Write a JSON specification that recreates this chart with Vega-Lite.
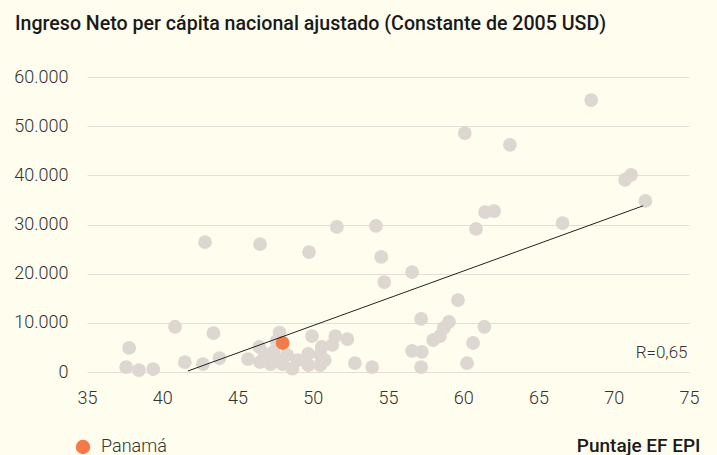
{
  "$schema": "https://vega.github.io/schema/vega-lite/v6.json",
  "width": 602,
  "height": 295,
  "autosize": "none",
  "padding": {"left": 87, "top": 77, "right": 28, "bottom": 83},
  "background": "#fffdee",
  "title": {
    "text": "Ingreso Neto per cápita nacional ajustado (Constante de 2005 USD)",
    "anchor": "start",
    "frame": "group",
    "dx": -72,
    "offset": 33,
    "fontSize": 19.6,
    "fontWeight": 500,
    "font": "Roboto",
    "color": "#1a1a1a"
  },
  "config": {
    "view": {"stroke": null},
    "locale": {"number": {"decimal": ",", "thousands": ".", "grouping": [3], "currency": ["", ""]}},
    "font": "Roboto"
  },
  "datasets": {
    "paises": [
      {"epi": 37.6, "ingreso": 1000, "grupo": "Otros"},
      {"epi": 37.8, "ingreso": 4900, "grupo": "Otros"},
      {"epi": 38.45, "ingreso": 400, "grupo": "Otros"},
      {"epi": 39.4, "ingreso": 600, "grupo": "Otros"},
      {"epi": 40.85, "ingreso": 9200, "grupo": "Otros"},
      {"epi": 41.5, "ingreso": 2000, "grupo": "Otros"},
      {"epi": 42.7, "ingreso": 1600, "grupo": "Otros"},
      {"epi": 42.84, "ingreso": 26400, "grupo": "Otros"},
      {"epi": 43.4, "ingreso": 7900, "grupo": "Otros"},
      {"epi": 43.8, "ingreso": 2800, "grupo": "Otros"},
      {"epi": 45.7, "ingreso": 2600, "grupo": "Otros"},
      {"epi": 46.45, "ingreso": 5100, "grupo": "Otros"},
      {"epi": 46.5, "ingreso": 26000, "grupo": "Otros"},
      {"epi": 47.8, "ingreso": 8000, "grupo": "Otros"},
      {"epi": 48.65, "ingreso": 700, "grupo": "Otros"},
      {"epi": 49.75, "ingreso": 24400, "grupo": "Otros"},
      {"epi": 49.95, "ingreso": 7300, "grupo": "Otros"},
      {"epi": 51.5, "ingreso": 7300, "grupo": "Otros"},
      {"epi": 51.6, "ingreso": 29500, "grupo": "Otros"},
      {"epi": 52.3, "ingreso": 6700, "grupo": "Otros"},
      {"epi": 52.8, "ingreso": 1800, "grupo": "Otros"},
      {"epi": 53.95, "ingreso": 1000, "grupo": "Otros"},
      {"epi": 54.2, "ingreso": 29700, "grupo": "Otros"},
      {"epi": 54.55, "ingreso": 23400, "grupo": "Otros"},
      {"epi": 54.75, "ingreso": 18300, "grupo": "Otros"},
      {"epi": 56.6, "ingreso": 20300, "grupo": "Otros"},
      {"epi": 56.6, "ingreso": 4300, "grupo": "Otros"},
      {"epi": 57.25, "ingreso": 4100, "grupo": "Otros"},
      {"epi": 57.2, "ingreso": 1000, "grupo": "Otros"},
      {"epi": 57.2, "ingreso": 10800, "grupo": "Otros"},
      {"epi": 58.0, "ingreso": 6500, "grupo": "Otros"},
      {"epi": 58.45, "ingreso": 7300, "grupo": "Otros"},
      {"epi": 58.7, "ingreso": 8900, "grupo": "Otros"},
      {"epi": 59.05, "ingreso": 10200, "grupo": "Otros"},
      {"epi": 59.65, "ingreso": 14600, "grupo": "Otros"},
      {"epi": 60.1, "ingreso": 48600, "grupo": "Otros"},
      {"epi": 60.25, "ingreso": 1800, "grupo": "Otros"},
      {"epi": 60.65, "ingreso": 5900, "grupo": "Otros"},
      {"epi": 60.85, "ingreso": 29100, "grupo": "Otros"},
      {"epi": 61.4, "ingreso": 9200, "grupo": "Otros"},
      {"epi": 61.45, "ingreso": 32500, "grupo": "Otros"},
      {"epi": 62.05, "ingreso": 32700, "grupo": "Otros"},
      {"epi": 63.1, "ingreso": 46200, "grupo": "Otros"},
      {"epi": 66.6, "ingreso": 30300, "grupo": "Otros"},
      {"epi": 68.5, "ingreso": 55300, "grupo": "Otros"},
      {"epi": 70.75, "ingreso": 39100, "grupo": "Otros"},
      {"epi": 71.15, "ingreso": 40100, "grupo": "Otros"},
      {"epi": 72.1, "ingreso": 34800, "grupo": "Otros"},
      {"epi": 46.8, "ingreso": 3700, "grupo": "Otros"},
      {"epi": 47.2, "ingreso": 1600, "grupo": "Otros"},
      {"epi": 46.5, "ingreso": 2000, "grupo": "Otros"},
      {"epi": 47.4, "ingreso": 4100, "grupo": "Otros"},
      {"epi": 48.3, "ingreso": 3500, "grupo": "Otros"},
      {"epi": 49.0, "ingreso": 2400, "grupo": "Otros"},
      {"epi": 49.7, "ingreso": 3700, "grupo": "Otros"},
      {"epi": 49.7, "ingreso": 1400, "grupo": "Otros"},
      {"epi": 48.0, "ingreso": 1600, "grupo": "Otros"},
      {"epi": 50.6, "ingreso": 5100, "grupo": "Otros"},
      {"epi": 51.3, "ingreso": 5500, "grupo": "Otros"},
      {"epi": 50.8, "ingreso": 2400, "grupo": "Otros"},
      {"epi": 50.5, "ingreso": 3500, "grupo": "Otros"},
      {"epi": 50.5, "ingreso": 1400, "grupo": "Otros"},
      {"epi": 47.5, "ingreso": 2800, "grupo": "Otros"},
      {"epi": 47.6, "ingreso": 6300, "grupo": "Otros"},
      {"epi": 48.0, "ingreso": 5900, "grupo": "Panamá"}
    ],
    "tendencia": [
      {"epi": 41.7, "ingreso": 200},
      {"epi": 71.95, "ingreso": 33800}
    ],
    "nota": [
      {"epi": 74.9, "ingreso": 2900, "texto": "R=0,65"}
    ]
  },
  "layer": [
    {
      "data": {"name": "paises"},
      "mark": {"type": "circle", "size": 190, "opacity": 1},
      "encoding": {
        "x": {
          "field": "epi", "type": "quantitative",
          "scale": {"domain": [35, 75], "nice": false, "zero": false},
          "axis": {
            "values": [35, 40, 45, 50, 55, 60, 65, 70, 75],
            "grid": false, "domain": false, "ticks": false,
            "labelFlush": false,
            "labelFontSize": 18, "labelColor": "#333333", "labelFontWeight": 300,
            "labelPadding": 17,
            "title": "Puntaje EF EPI",
            "titleAnchor": "end", "titleAlign": "right", "titleBaseline": "alphabetic",
            "titleX": 613, "titleY": 79,
            "titleFontSize": 19, "titleFontWeight": 500, "titleColor": "#1a1a1a"
          }
        },
        "y": {
          "field": "ingreso", "type": "quantitative",
          "scale": {"domain": [0, 60000], "nice": false},
          "axis": {
            "values": [0, 10000, 20000, 30000, 40000, 50000, 60000],
            "format": ",d",
            "grid": true, "gridColor": "#e6dcd8", "gridWidth": 1.2,
            "domain": false, "ticks": false,
            "labelFontSize": 18, "labelColor": "#333333", "labelFontWeight": 300,
            "labelPadding": 19,
            "title": null
          }
        },
        "color": {
          "field": "grupo", "type": "nominal",
          "scale": {"domain": ["Panamá", "Otros"], "range": ["#f47b47", "#ddd6d1"]},
          "legend": {
            "values": ["Panamá"],
            "title": null,
            "orient": "none",
            "legendX": -13,
            "legendY": 361,
            "symbolType": "circle",
            "symbolSize": 210,
            "symbolOpacity": 1,
            "labelFontSize": 18,
            "labelColor": "#333333",
            "labelFontWeight": 300,
            "labelOffset": 9,
            "padding": 0
          }
        }
      }
    },
    {
      "data": {"name": "tendencia"},
      "mark": {"type": "line", "color": "#222222", "strokeWidth": 1},
      "encoding": {
        "x": {"field": "epi", "type": "quantitative"},
        "y": {"field": "ingreso", "type": "quantitative"}
      }
    },
    {
      "data": {"name": "nota"},
      "mark": {"type": "text", "align": "right", "baseline": "alphabetic", "fontSize": 17, "fontWeight": 300, "color": "#333333"},
      "encoding": {
        "x": {"field": "epi", "type": "quantitative"},
        "y": {"field": "ingreso", "type": "quantitative"},
        "text": {"field": "texto"}
      }
    }
  ]
}
